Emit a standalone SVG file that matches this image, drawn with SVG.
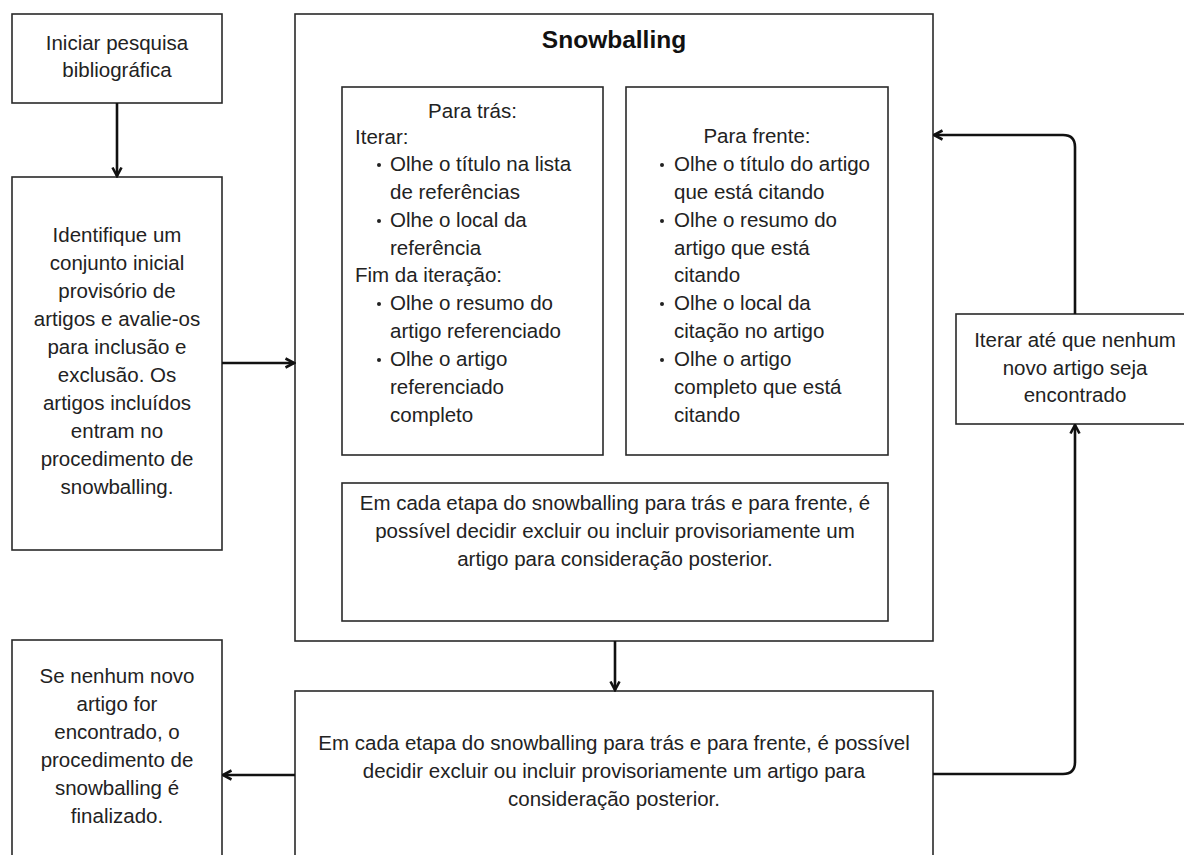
<svg xmlns="http://www.w3.org/2000/svg" width="1184" height="855" viewBox="0 0 1184 855">
<defs>
<style>
.box{fill:#fff;stroke:#2a2a2a;stroke-width:1.6}
.t{font-family:"Liberation Sans",Arial,sans-serif;font-size:20.5px;fill:#222}
.c{text-anchor:middle}
.title{font-family:"Liberation Sans",Arial,sans-serif;font-size:24.5px;font-weight:bold;fill:#111;text-anchor:middle}
.conn{fill:none;stroke:#111;stroke-width:2.6}
.bul{fill:#222}
</style>
<marker id="arr" viewBox="0 0 12 12" refX="10.5" refY="6" markerWidth="12" markerHeight="12" markerUnits="userSpaceOnUse" orient="auto">
<path d="M2,1.5 L10.5,6 L2,10.5" fill="none" stroke="#111" stroke-width="2.6" stroke-linejoin="miter"/>
</marker>
</defs>
<rect width="1184" height="855" fill="#fff"/>

<g id="start">
<rect class="box" x="12" y="14" width="210" height="89"/>
<text class="t c" x="117" y="50">Iniciar pesquisa</text>
<text class="t c" x="117" y="77">bibliográfica</text>
</g>

<g id="identify">
<rect class="box" x="12" y="177" width="210" height="373"/>
<text class="t c" x="117" y="242">Identifique um</text>
<text class="t c" x="117" y="270">conjunto inicial</text>
<text class="t c" x="117" y="298">provisório de</text>
<text class="t c" x="117" y="326">artigos e avalie-os</text>
<text class="t c" x="117" y="354">para inclusão e</text>
<text class="t c" x="117" y="382">exclusão. Os</text>
<text class="t c" x="117" y="410">artigos incluídos</text>
<text class="t c" x="117" y="438">entram no</text>
<text class="t c" x="117" y="466">procedimento de</text>
<text class="t c" x="117" y="494">snowballing.</text>
</g>

<g id="snowballing">
<rect class="box" x="295" y="14" width="638" height="627"/>
<text class="title" x="614" y="47.5">Snowballing</text>
</g>

<g id="backward">
<rect class="box" x="342" y="87" width="261" height="368"/>
<text class="t c" x="472.5" y="118">Para trás:</text>
<text class="t" x="355" y="144">Iterar:</text>
<circle class="bul" cx="379" cy="165" r="2"/>
<text class="t" x="390" y="171">Olhe o título na lista</text>
<text class="t" x="390" y="199">de referências</text>
<circle class="bul" cx="379" cy="221" r="2"/>
<text class="t" x="390" y="227">Olhe o local da</text>
<text class="t" x="390" y="255">referência</text>
<text class="t" x="355" y="282">Fim da iteração:</text>
<circle class="bul" cx="379" cy="304" r="2"/>
<text class="t" x="390" y="310">Olhe o resumo do</text>
<text class="t" x="390" y="338">artigo referenciado</text>
<circle class="bul" cx="379" cy="360" r="2"/>
<text class="t" x="390" y="366">Olhe o artigo</text>
<text class="t" x="390" y="394">referenciado</text>
<text class="t" x="390" y="422">completo</text>
</g>

<g id="forward">
<rect class="box" x="626" y="87" width="262" height="368"/>
<text class="t c" x="757" y="143">Para frente:</text>
<circle class="bul" cx="662" cy="165" r="2"/>
<text class="t" x="674" y="171">Olhe o título do artigo</text>
<text class="t" x="674" y="199">que está citando</text>
<circle class="bul" cx="662" cy="221" r="2"/>
<text class="t" x="674" y="227">Olhe o resumo do</text>
<text class="t" x="674" y="255">artigo que está</text>
<text class="t" x="674" y="282">citando</text>
<circle class="bul" cx="662" cy="304" r="2"/>
<text class="t" x="674" y="310">Olhe o local da</text>
<text class="t" x="674" y="338">citação no artigo</text>
<circle class="bul" cx="662" cy="360" r="2"/>
<text class="t" x="674" y="366">Olhe o artigo</text>
<text class="t" x="674" y="394">completo que está</text>
<text class="t" x="674" y="422">citando</text>
</g>

<g id="decision-inner">
<rect class="box" x="342" y="483" width="546" height="138"/>
<text class="t c" x="615" y="510">Em cada etapa do snowballing para trás e para frente, é</text>
<text class="t c" x="615" y="538">possível decidir excluir ou incluir provisoriamente um</text>
<text class="t c" x="615" y="566">artigo para consideração posterior.</text>
</g>

<g id="decision">
<rect class="box" x="295" y="691" width="638" height="200"/>
<text class="t c" x="614" y="750">Em cada etapa do snowballing para trás e para frente, é possível</text>
<text class="t c" x="614" y="778">decidir excluir ou incluir provisoriamente um artigo para</text>
<text class="t c" x="614" y="806">consideração posterior.</text>
</g>

<g id="end">
<rect class="box" x="12" y="640" width="210" height="250"/>
<text class="t c" x="117" y="683">Se nenhum novo</text>
<text class="t c" x="117" y="711">artigo for</text>
<text class="t c" x="117" y="739">encontrado, o</text>
<text class="t c" x="117" y="767">procedimento de</text>
<text class="t c" x="117" y="795">snowballing é</text>
<text class="t c" x="117" y="823">finalizado.</text>
</g>

<g id="iterate">
<rect class="box" x="956" y="314" width="240" height="110"/>
<text class="t c" x="1075" y="347">Iterar até que nenhum</text>
<text class="t c" x="1075" y="375">novo artigo seja</text>
<text class="t c" x="1075" y="402">encontrado</text>
</g>

<g id="connectors">
<path class="conn" d="M117,103 L117,176" marker-end="url(#arr)"/>
<path class="conn" d="M222,363 L294,363" marker-end="url(#arr)"/>
<path class="conn" d="M615,641 L615,690" marker-end="url(#arr)"/>
<path class="conn" d="M295,775 L223,775" marker-end="url(#arr)"/>
<path class="conn" d="M933,774 L1063,774 Q1075,774 1075,762 L1075,425" marker-end="url(#arr)"/>
<path class="conn" d="M1075,314 L1075,147 Q1075,135 1063,135 L934,135" marker-end="url(#arr)"/>
</g>
</svg>
